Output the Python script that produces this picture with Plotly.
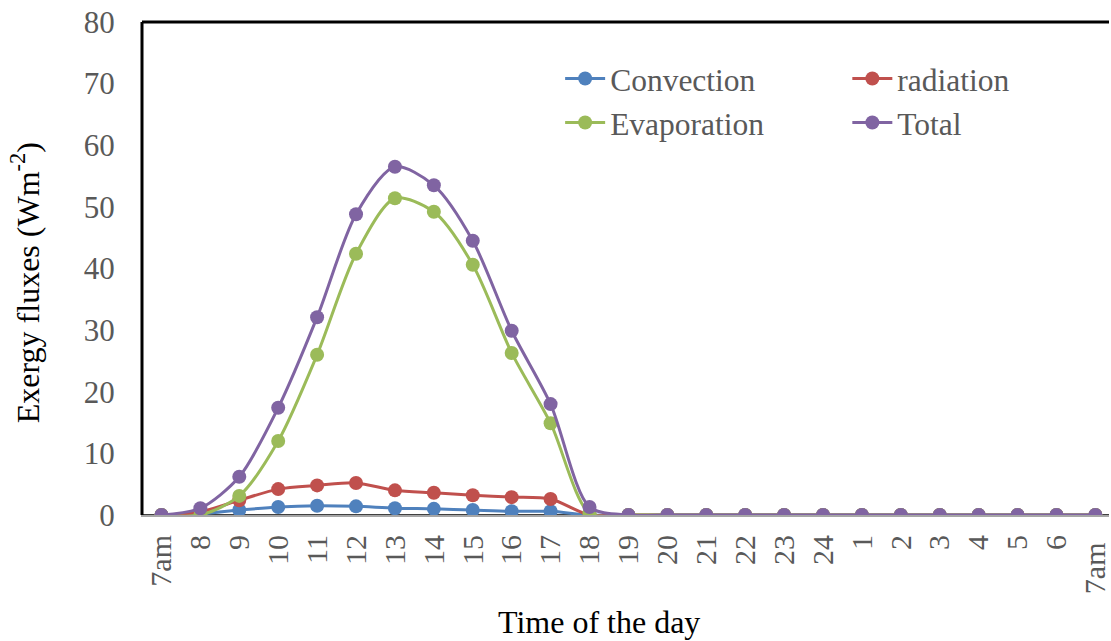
import plotly.graph_objects as go

# Hourly exergy fluxes over one day (W m^-2)
hours = ["7am", "8", "9", "10", "11", "12", "13", "14", "15", "16", "17", "18",
         "19", "20", "21", "22", "23", "24", "1", "2", "3", "4", "5", "6", "7am "]

convection = [0, 0.2, 0.8, 1.3, 1.5, 1.4, 1.1, 1.0, 0.8, 0.6, 0.6, 0,
              0, 0, 0, 0, 0, 0, 0, 0, 0, 0, 0, 0, 0]
radiation = [0, 0.5, 2.4, 4.2, 4.8, 5.2, 4.0, 3.6, 3.2, 2.9, 2.6, 0,
             0, 0, 0, 0, 0, 0, 0, 0, 0, 0, 0, 0, 0]
evaporation = [0, 0, 3.1, 12.0, 26.0, 42.4, 51.4, 49.2, 40.6, 26.3, 14.9, 0.3,
               0, 0, 0, 0, 0, 0, 0, 0, 0, 0, 0, 0, 0]
total = [0, 1.1, 6.2, 17.4, 32.1, 48.8, 56.5, 53.5, 44.5, 29.9, 18.0, 1.3,
         0, 0, 0, 0, 0, 0, 0, 0, 0, 0, 0, 0, 0]

series = [
    ("Convection", convection, "#4F81BD", "legend"),
    ("radiation", radiation, "#C0504D", "legend2"),
    ("Evaporation", evaporation, "#9BBB59", "legend"),
    ("Total", total, "#8064A2", "legend2"),
]

FONT = "Liberation Serif, Times New Roman, serif"

fig = go.Figure()
for name, vals, color, leg in series:
    fig.add_trace(go.Scatter(
        x=hours, y=vals, name=name, mode="lines+markers",
        line=dict(color=color, width=3, shape="spline", smoothing=0.8),
        marker=dict(color=color, size=14),
        legend=leg, legendgroup=name,
    ))

legend_style = dict(
    font=dict(family=FONT, size=31.5, color="#595959"),
    bgcolor="rgba(0,0,0,0)", orientation="v",
    xanchor="left", yanchor="top", tracegroupgap=0,
    itemwidth=40,
)

fig.update_layout(
    width=1111, height=641,
    margin=dict(l=142, r=0, t=22, b=126),
    paper_bgcolor="white", plot_bgcolor="white",
    font=dict(family=FONT),
    legend=dict(x=0.4324, y=0.94, **legend_style),
    legend2=dict(x=0.7294, y=0.94, **legend_style),
    xaxis=dict(
        type="category", range=[-0.5, 24.35],
        tickangle=-90, showgrid=False, ticks="",
        tickfont=dict(family=FONT, size=30, color="#595959"),
        showline=True, linecolor="#A6A6A6", linewidth=2,
        ticklabelstandoff=6,
    ),
    yaxis=dict(
        range=[0, 80], dtick=10, showgrid=False, ticks="",
        tickfont=dict(family=FONT, size=31, color="#595959"),
        showline=True, linecolor="#BFBFBF", linewidth=1,
        ticklabelstandoff=20, zeroline=False,
    ),
    showlegend=True,
)

# black frame on the left, top and bottom of the plot area
frame = dict(type="line", xref="paper", yref="paper",
             line=dict(color="black", width=3), layer="above")
fig.add_shape(x0=0, x1=0, y0=0, y1=1, **frame)
fig.add_shape(x0=0, x1=1, y0=1, y1=1, **frame)
fig.add_shape(type="line", xref="paper", yref="paper", x0=0, x1=1, y0=0, y1=0,
              line=dict(color="black", width=1.5), layer="below")

fig.add_annotation(
    text="Time of the day", xref="paper", yref="paper",
    x=(600 - 142) / 969, y=-(622 - 515) / 493, xanchor="center", yanchor="middle",
    showarrow=False, font=dict(family=FONT, size=32, color="black"),
)
fig.add_annotation(
    text="Exergy fluxes (Wm<sup>-2</sup>)", xref="paper", yref="paper",
    x=-(142 - 25) / 969, y=(515 - 283) / 493, xanchor="center", yanchor="middle",
    textangle=-90, showarrow=False,
    font=dict(family=FONT, size=32, color="black"),
)

fig.write_html("out.html")
